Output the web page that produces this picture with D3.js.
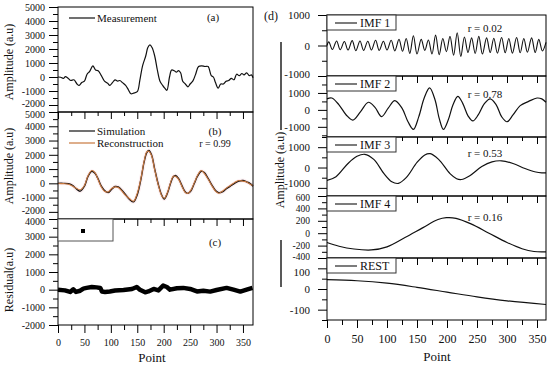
<!DOCTYPE html>
<html>
<head>
<meta charset="utf-8">
<script src="https://cdn.jsdelivr.net/npm/d3@7"></script>
<style>
  body { margin: 0; background: #fff; }
  svg { display: block; }
  svg text { font-family: "Liberation Serif", "Times New Roman", serif; fill: #111; }
</style>
</head>
<body>
<script>
// ---- data: [point, value] ----
const measurement = [[0,0],[5,-20],[10,-100],[14,20],[18,-50],[24,-250],[30,-200],[36,-500],[40,-600],[45,-400],[50,-300],[55,200],[60,400],[66,800],[71,500],[76,450],[82,100],[88,-300],[94,-450],[98,-600],[103,-400],[108,-200],[113,-300],[117,-250],[122,-400],[128,-600],[133,-900],[138,-1200],[143,-1150],[150,-1050],[155,-200],[160,800],[166,1500],[170,2100],[174,2300],[178,2100],[183,1500],[188,500],[193,-300],[198,-600],[202,-800],[206,-950],[211,0],[215,500],[220,450],[224,350],[228,450],[232,300],[236,-300],[241,-500],[246,-700],[250,-500],[255,-300],[260,150],[266,750],[272,800],[278,750],[284,750],[290,100],[294,0],[298,-400],[303,-800],[308,-500],[313,-500],[318,-300],[323,-250],[328,-100],[333,-200],[338,200],[343,100],[348,250],[352,150],[357,300],[362,100],[366,150],[369,-50]];

const simulation = [[0,0],[10,0],[20,-20],[28,-150],[35,-400],[42,-550],[50,-200],[57,500],[64,850],[70,700],[76,300],[82,-200],[88,-500],[95,-650],[102,-400],[108,-220],[114,-250],[120,-450],[128,-800],[136,-1150],[143,-1300],[150,-800],[157,300],[163,1500],[168,2150],[172,2300],[177,2000],[183,1000],[190,-100],[196,-800],[201,-1100],[207,-700],[213,0],[218,450],[222,550],[228,350],[235,-200],[241,-600],[246,-700],[252,-500],[258,0],[264,500],[271,850],[277,750],[284,350],[291,-100],[298,-500],[304,-650],[311,-600],[318,-400],[326,-200],[334,0],[342,150],[350,200],[357,100],[363,0],[369,-200]];

const reconstruction = [[0,0],[10,-20],[20,-60],[28,-200],[35,-350],[42,-450],[50,-150],[57,550],[64,900],[70,750],[76,250],[82,-250],[88,-550],[95,-600],[102,-350],[108,-250],[114,-300],[120,-500],[128,-850],[136,-1100],[143,-1250],[150,-700],[157,350],[163,1550],[168,2200],[172,2250],[177,1950],[183,950],[190,-150],[196,-850],[201,-1050],[207,-650],[213,50],[218,500],[222,500],[228,300],[235,-250],[241,-650],[246,-700],[252,-450],[258,50],[264,550],[271,900],[277,700],[284,300],[291,-150],[298,-550],[304,-700],[311,-550],[318,-350],[326,-150],[334,50],[342,200],[350,150],[357,100],[363,-50],[369,-150]];

const residual = [[0,0],[13,-40],[23,-130],[29,20],[34,-130],[42,-60],[48,60],[54,100],[64,150],[73,130],[80,100],[83,-100],[89,-130],[98,-100],[108,-50],[124,-20],[140,40],[149,150],[155,0],[165,-150],[171,-100],[181,40],[190,-40],[199,230],[206,150],[212,0],[225,80],[237,100],[250,40],[263,-100],[275,-60],[288,-110],[300,-20],[319,100],[332,0],[345,-110],[357,0],[368,100]];

const imf1 = [[0,0],[3,120],[9,-130],[16,150],[22,-140],[29,130],[35,-150],[42,160],[48,-170],[55,150],[61,-160],[68,140],[74,-150],[81,170],[87,-160],[94,140],[100,-150],[107,170],[113,-180],[120,200],[126,-190],[132,230],[138,-260],[144,320],[150,-280],[157,200],[163,-160],[169,180],[175,-280],[181,340],[187,-300],[193,230],[199,-200],[205,300],[211,-320],[217,420],[223,-360],[229,280],[235,-230],[241,250],[247,-260],[253,300],[259,-280],[266,250],[272,-230],[278,240],[284,-250],[291,260],[297,-240],[303,230],[309,-250],[316,260],[322,-240],[328,230],[334,-220],[341,250],[347,-230],[353,200],[359,-180],[365,100]];

const imf2 = [[0,650],[8,700],[20,300],[32,-300],[43,-600],[56,-100],[69,450],[80,150],[91,-400],[102,100],[113,550],[125,100],[135,-700],[144,-1150],[153,-400],[162,700],[171,1300],[180,600],[187,-500],[194,-1150],[202,-600],[210,300],[218,800],[226,400],[235,-350],[243,-650],[252,-300],[262,350],[272,650],[282,300],[291,-400],[300,-700],[310,-300],[322,250],[336,500],[350,700],[358,650],[365,450]];

const imf3 = [[0,-630],[15,-450],[35,200],[50,550],[63,650],[78,400],[95,-300],[108,-700],[119,-780],[132,-500],[150,250],[163,620],[172,680],[186,400],[205,-300],[216,-550],[224,-590],[238,-400],[258,50],[275,280],[291,330],[310,200],[330,-50],[348,-220],[358,-260],[365,-260]];

const imf4 = [[0,-150],[20,-210],[45,-255],[74,-270],[100,-220],[130,-70],[160,90],[185,220],[199,250],[215,240],[240,150],[270,0],[300,-150],[325,-250],[345,-295],[365,-300]];

const rest = [[0,45],[50,40],[100,28],[150,8],[200,-15],[250,-38],[300,-57],[365,-75]];

// tick values
const xMajor = [0, 50, 100, 150, 200, 250, 300, 350];
const xMinor = [25, 75, 125, 175, 225, 275, 325];
const ampMajorA = [-2000, -1000, 0, 1000, 2000, 3000, 4000, 5000];
const ampMinorA = [-2500, -1500, -500, 500, 1500, 2500, 3500, 4500];
const resMajor = [-2000, -1000, 0, 1000, 2000, 3000, 4000];
const resMinor = [-1500, -500, 500, 1500, 2500, 3500];
const imfMajor = [-1000, 0, 1000];
const imfMinor = [-1500, -500, 500, 1500];
const imf4Major = [-400, -200, 0, 200, 400, 600];
const imf4Minor = [-300, -100, 100, 300, 500];
const restMajor = [-100, 0, 100];
const restMinor = [-150, -50, 50, 150];

const FONT = '"Liberation Serif", "Times New Roman", serif';
const svg = d3.select("body").append("svg")
  .attr("width", 550).attr("height", 367)
  .style("font-family", FONT);

const xL = d3.scaleLinear().domain([0, 369]).range([58, 253]);
const xR = d3.scaleLinear().domain([0, 365]).range([327, 546]);

function styleAxis(g, size) {
  g.attr("font-family", null);
  g.select(".domain").remove();
  g.selectAll("line").attr("stroke", "#000").attr("stroke-width", 1);
  g.selectAll("text").style("font-size", size + "px");
}

// nudge the end labels apart where two panels meet
function nudge(g, first, last) {
  const t = g.selectAll(".tick text").nodes();
  if (!t.length) return;
  if (first) d3.select(t[0]).attr("dy", (0.32 + first) + "em");
  if (last) d3.select(t[t.length - 1]).attr("dy", (0.32 + last) + "em");
}

function addPanel(x, top, bottom, domain, major, minor, pad, fs, opts) {
  const y = d3.scaleLinear().domain(domain).range([bottom, top]);
  const x0 = x.range()[0], x1 = x.range()[1];
  const g = svg.append("g");
  const ya = g.append("g").attr("transform", `translate(${x0},0)`)
    .call(d3.axisLeft(y).tickValues(major).tickSize(9).tickPadding(pad).tickFormat(d => String(d)))
    .call(styleAxis, fs);
  nudge(ya, opts.nudgeLow || 0, opts.nudgeHigh || 0);
  g.append("g").attr("transform", `translate(${x0},0)`)
    .call(d3.axisLeft(y).tickValues(minor.filter(v => v >= domain[0] && v <= domain[1])).tickSize(5).tickFormat(""))
    .call(styleAxis, fs);
  if (opts.topTicks) {
    g.append("g").attr("transform", `translate(0,${top})`)
      .call(d3.axisBottom(x).tickValues(xMajor).tickSize(7).tickFormat(""))
      .call(styleAxis, fs);
    g.append("g").attr("transform", `translate(0,${top})`)
      .call(d3.axisBottom(x).tickValues(xMinor).tickSize(4).tickFormat(""))
      .call(styleAxis, fs);
  }
  if (opts.bottomAxis) {
    g.append("g").attr("transform", `translate(0,${bottom})`)
      .call(d3.axisBottom(x).tickValues(xMajor).tickSize(8).tickPadding(6).tickFormat(d => String(d)))
      .call(styleAxis, opts.xfs || fs);
    g.append("g").attr("transform", `translate(0,${bottom})`)
      .call(d3.axisBottom(x).tickValues(xMinor).tickSize(5).tickFormat(""))
      .call(styleAxis, fs);
  }
  return { y, g, x0, x1, top, bottom };
}

function drawLine(p, x, data, color, width, curve) {
  const line = d3.line().x(d => x(d[0])).y(d => p.y(d[1])).curve(curve || d3.curveCatmullRom.alpha(0.5));
  p.g.append("path").datum(data)
    .attr("d", line).attr("fill", "none")
    .attr("stroke", color).attr("stroke-width", width)
    .attr("stroke-linejoin", "round");
}

function frame(p) {
  p.g.append("rect").attr("x", p.x0).attr("y", p.top)
    .attr("width", p.x1 - p.x0).attr("height", p.bottom - p.top)
    .attr("fill", "none").attr("stroke", "#000").attr("stroke-width", 1);
}

function text(str, x, y, size, anchor) {
  return svg.append("text").attr("x", x).attr("y", y)
    .attr("text-anchor", anchor || "start")
    .style("font-size", size + "px").text(str);
}

function vlabel(str, x, y, size) {
  svg.append("text").attr("transform", `translate(${x},${y}) rotate(-90)`)
    .attr("text-anchor", "middle").style("font-size", size + "px").text(str);
}

// ---- left column ----
const pa = addPanel(xL, 7, 112, [-2500, 5000], ampMajorA, ampMinorA, 4, 10, { nudgeLow: -0.15 });
drawLine(pa, xL, measurement, "#111", 1.2);
frame(pa);

const pb = addPanel(xL, 112, 219, [-2500, 5000], ampMajorA, ampMinorA, 4, 10, { topTicks: true, nudgeLow: -0.15, nudgeHigh: 0.2 });
drawLine(pb, xL, simulation, "#fdf0f2", 4);
drawLine(pb, xL, simulation, "#111", 1.4);
drawLine(pb, xL, reconstruction, "#c8783f", 1.1);
frame(pb);

const pc = addPanel(xL, 219, 325, [-2000, 4000], resMajor, resMinor, 4, 10, { topTicks: true, bottomAxis: true, nudgeHigh: 0.2 });
drawLine(pc, xL, residual, "#000", 4.5, d3.curveLinear);
frame(pc);

// legends, left
svg.append("line").attr("x1", 69).attr("x2", 95).attr("y1", 18).attr("y2", 18).attr("stroke", "#111").attr("stroke-width", 1.2);
text("Measurement", 97, 22, 11);
text("(a)", 213, 21, 11, "middle");

svg.append("line").attr("x1", 69).attr("x2", 95).attr("y1", 131).attr("y2", 131).attr("stroke", "#111").attr("stroke-width", 1.2);
text("Simulation", 97, 135, 11);
svg.append("line").attr("x1", 69).attr("x2", 95).attr("y1", 143).attr("y2", 143).attr("stroke", "#c8783f").attr("stroke-width", 1.2);
text("Reconstruction", 97, 147, 11);
text("(b)", 215, 135, 11, "middle");
text("r = 0.99", 215, 147, 10, "middle");

svg.append("rect").attr("x", 58).attr("y", 219).attr("width", 55).attr("height", 22)
  .attr("fill", "#fff").attr("stroke", "#555").attr("stroke-width", 1);
svg.append("rect").attr("x", 81).attr("y", 229).attr("width", 4).attr("height", 4).attr("fill", "#000");
text("(c)", 215, 246, 11, "middle");

text("Point", 152, 362, 13, "middle");

vlabel("Amplitude (a.u)", 13, 62, 12);
vlabel("Amplitude (a.u)", 13, 166, 12);
vlabel("Residual(a.u)", 13, 280, 12);

// ---- right column ----
const p1 = addPanel(xR, 15, 76, [-1000, 1000], imfMajor, imfMinor, 8, 11, { nudgeLow: -0.2 });
drawLine(p1, xR, imf1, "#111", 1.1);
frame(p1);

const p2 = addPanel(xR, 76, 137, [-1600, 2000], imfMajor, imfMinor, 8, 11, { topTicks: true });
drawLine(p2, xR, imf2, "#111", 1.2);
frame(p2);

const p3 = addPanel(xR, 137, 196, [-1400, 1500], imfMajor, imfMinor, 8, 11, { topTicks: true, nudgeLow: -0.4 });
drawLine(p3, xR, imf3, "#111", 1.2);
frame(p3);

const p4 = addPanel(xR, 196, 258, [-400, 600], imf4Major, imf4Minor, 8, 9.5, { topTicks: true, nudgeLow: -0.12, nudgeHigh: 0.12 });
drawLine(p4, xR, imf4, "#111", 1.2);
frame(p4);

const p5 = addPanel(xR, 258, 320, [-150, 150], restMajor, restMinor, 8, 11, { topTicks: true, bottomAxis: true, xfs: 12, nudgeHigh: 0.35 });
drawLine(p5, xR, rest, "#111", 1.2);
frame(p5);

const imfNames = ["IMF 1", "IMF 2", "IMF 3", "IMF 4", "REST"];
const imfR = ["r = 0.02", "r = 0.78", "r = 0.53", "r = 0.16", ""];
const rY = [32, 98, 157, 221];
[p1, p2, p3, p4, p5].forEach((p, i) => {
  svg.append("rect").attr("x", 327).attr("y", p.top).attr("width", 69).attr("height", 15)
    .attr("fill", "#fff").attr("stroke", "#333").attr("stroke-width", 1);
  svg.append("line").attr("x1", 335).attr("x2", 357).attr("y1", p.top + 8).attr("y2", p.top + 8)
    .attr("stroke", "#111").attr("stroke-width", 1.1);
  text(imfNames[i], 360, p.top + 12, 12);
  if (imfR[i]) text(imfR[i], 485, rY[i], 11, "middle");
});

text("(d)", 271, 20, 12, "middle");
text("Point", 437, 361, 13, "middle");

svg.append("line").attr("x1", 281).attr("x2", 281).attr("y1", 42).attr("y2", 130).attr("stroke", "#222").attr("stroke-width", 1.5);
vlabel("Amplitude (a.u)", 284, 170, 12);
svg.append("line").attr("x1", 281).attr("x2", 281).attr("y1", 240).attr("y2", 287).attr("stroke", "#222").attr("stroke-width", 1.5);
</script>
</body>
</html>
